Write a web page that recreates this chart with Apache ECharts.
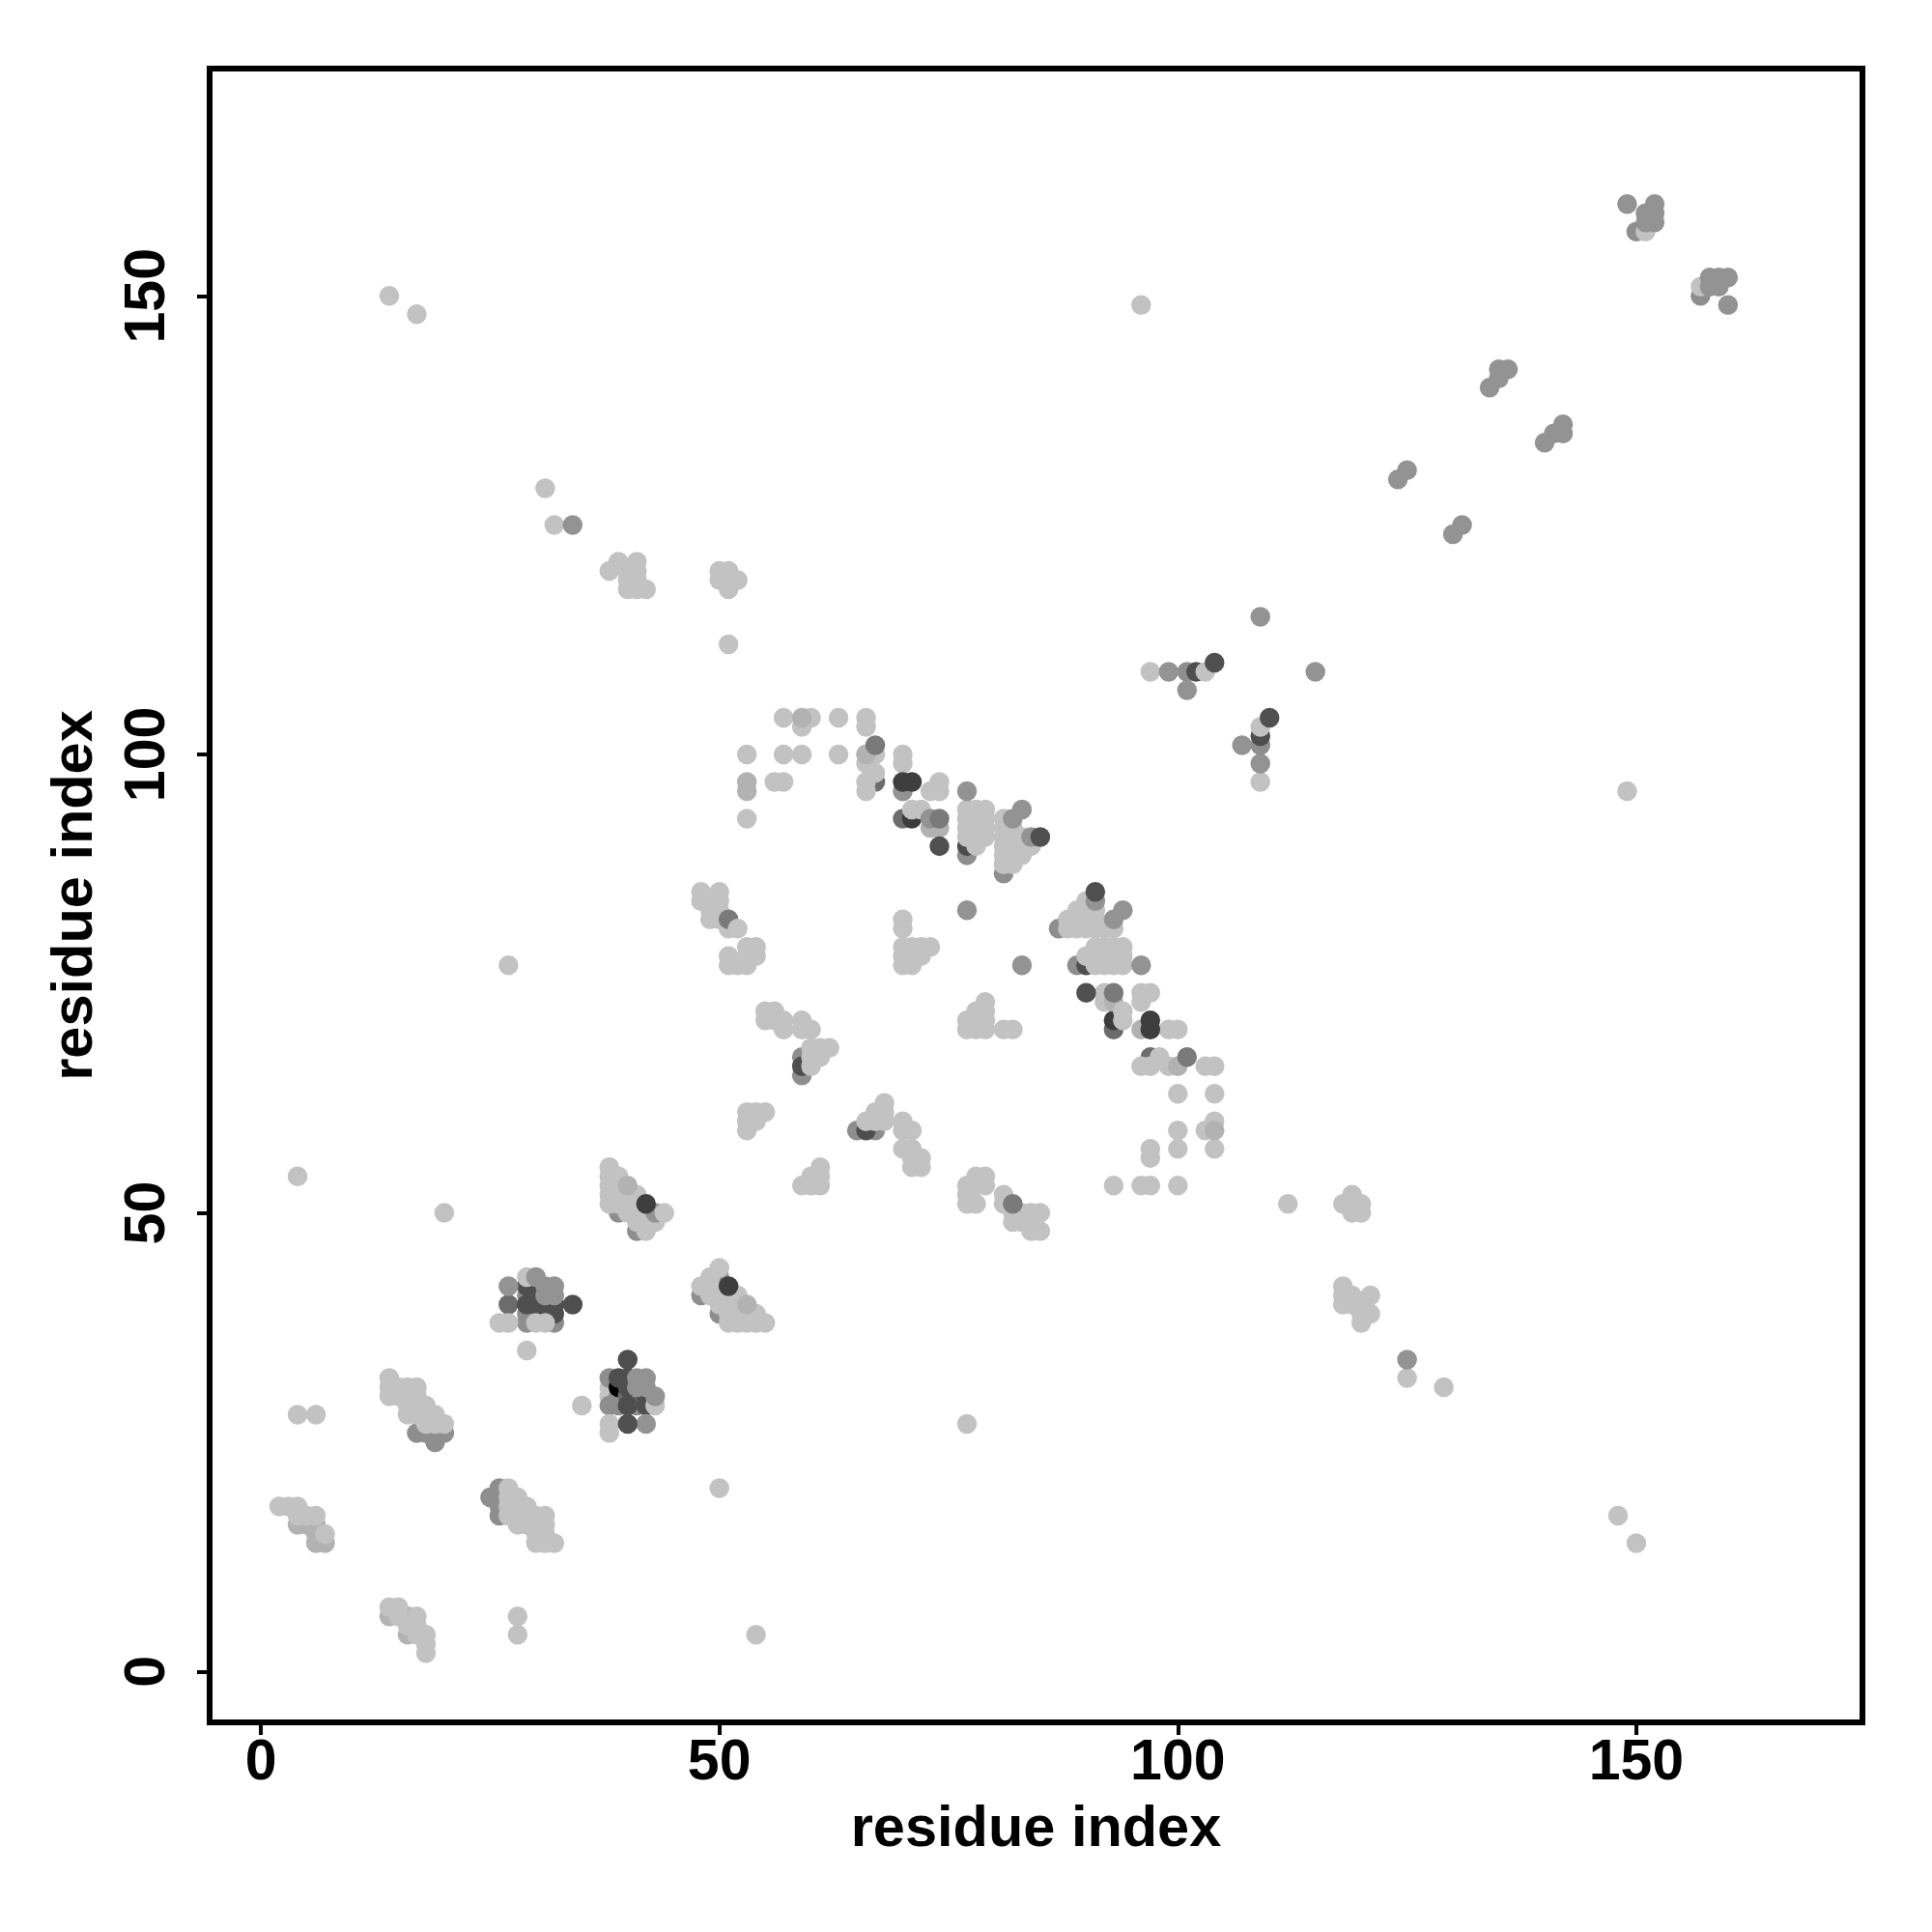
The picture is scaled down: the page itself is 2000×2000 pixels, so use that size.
<!DOCTYPE html>
<html><head><meta charset="utf-8">
<style>html,body{margin:0;padding:0;background:#fff}#c{width:2000px;height:2000px}</style>
<script src="https://cdn.jsdelivr.net/npm/echarts@6/dist/echarts.min.js"></script>
</head><body><div id="c"></div>
<script>
const tickValues=[0,50,100,150];
const axisTitle="residue index";
const lightLow=[[38,31],[38,30]];
const grayLow=[[26,20],[25,19],[26,19],[26,18],[26,17],[17,26],[18,26],[19,26],[19,25],[20,26],
[29,41],[30,41],[29,39],[30,39],[29,38],[32,38],[38,32],[38,29],[39,30],[39,29],[41,30],[41,29],
[50,43],[48,41],[50,39],[39,50],[41,48],[59,67],[59,65],[65,59],[67,59],[77,89],[81,87],[89,77],[87,81],
[150,157],[157,150],[101,109],[109,101]];
const blackSpot=[[31,39],[39,31]];
const slateLow=[[67,97],[70,93],[93,70],[97,67],[27,40],[40,30]];
const darkLow=[[29,42],[30,42],[29,40],[30,40],[31,40],[32,40],[32,39],[34,40],[39,32],[40,32],[40,31],[40,29],[42,30],[42,29],[40,34],
[59,66],[66,59],[77,90],[90,77],[102,109],[109,102]];
const deepLow=[[71,93],[93,71]];
const midLow=[[4,16],[5,16],[6,16],[6,15],[6,14],[7,14],[14,6],[16,6],[16,4],[73,92],[74,92],[53,97],[53,96]];
const light=[[29,35],[4,28],[6,28],[14,32],[14,31],[14,30],[15,31],[16,31],[17,31],[15,30],[16,30],[17,30],[16,29],[17,29],[18,29],[16,28],[17,28],[18,28],[19,28],[18,27],[19,27],[20,27],
[2,18],[3,18],[4,18],[4,17],[5,17],[6,17],[7,15],
[27,20],[28,19],[27,19],[27,18],[28,18],[29,18],[27,17],[28,17],[29,17],[30,17],[31,17],[28,16],[29,16],[30,16],[31,16],[30,15],[31,15],[30,14],[31,14],[32,14],
[14,7],[15,7],[15,6],[17,6],[17,5],[16,5],[17,4],[18,4],[18,3],[18,2],[28,6],[28,4],[35,29],
[26,38],[27,38],[29,43],[30,38],[31,38],[43,29],[38,27],[38,26],
[49,43],[48,42],[49,42],[49,41],[50,41],[51,41],[52,41],[50,40],[51,40],[52,40],[51,39],[52,39],[53,39],[54,39],[51,38],[52,38],[53,38],[54,38],[55,38],
[38,55],[39,54],[38,54],[38,53],[39,53],[38,52],[39,52],[40,52],[41,52],[38,51],[39,51],[40,51],[41,51],[40,50],[41,50],[42,50],[42,48],[41,49],[42,49],[43,49],
[61,55],[60,54],[61,54],[59,53],[60,53],[61,53],
[55,72],[56,72],[55,71],[56,71],[57,71],[57,70],[59,71],[59,70],[60,70],[60,68],[61,68],[62,68],[60,67],[61,67],[60,66],
[53,61],[54,61],[55,61],[53,60],[54,60],[53,59],[68,62],[67,61],[68,61],[66,60],[67,60],[68,60],[70,60],[70,59],[71,59],[70,57],[71,57],[72,56],[71,56],[71,55],[72,55],
[79,73],[78,72],[79,72],[77,71],[78,71],[79,71],[77,70],[78,70],[79,70],[81,70],[82,70],
[78,54],[79,54],[77,53],[78,53],[79,53],[77,52],[77,51],[78,51],[81,52],[81,51],[82,50],[82,49],[83,50],[83,49],[84,50],[85,50],[84,49],[84,48],[85,48],
[48,85],[50,85],[48,84],[49,84],[50,84],[49,83],[50,83],[49,82],[50,82],[51,81],
[51,78],[51,77],[52,77],[53,77],[53,78],[54,78],[53,79],[54,79],
[70,82],[70,81],[70,79],[71,79],[72,79],[73,79],[70,78],[71,78],[72,78],[70,77],[71,77],
[57,104],[59,103],[60,104],[63,104],[66,104],[66,103],[53,100],[57,100],[59,100],[63,100],[66,100],[67,100],[66,99],[70,100],[70,99],[53,93],[56,97],[57,97],[66,97],[66,96],[67,98],[70,96],
[73,96],[74,97],[74,96],[71,94],[72,94],
[77,94],[78,94],[79,94],[77,93],[78,93],[79,93],[77,92],[78,92],[79,92],[77,91],[78,91],[79,91],[78,90],
[81,93],[81,92],[82,92],[81,91],[82,91],[83,91],[81,90],[82,90],[83,90],[84,90],[81,89],[82,89],[83,89],[81,88],[82,88],
[90,84],[89,83],[90,83],[91,83],[88,82],[89,82],[90,82],[91,82],[88,81],[89,81],[90,81],[91,81],[92,81],[93,81],
[91,79],[92,79],[93,79],[94,79],[90,78],[91,78],[92,78],[93,78],[94,78],[91,77],[92,77],[93,77],[94,77],
[92,74],[92,73],[96,74],[97,74],[96,73],[94,71],[99,70],[100,70],[98,67],[96,66],[97,66],[99,66],[103,66],[104,66],
[100,63],[104,63],[104,60],[103,59],[100,59],[97,57],[97,56],[100,57],[104,57],[93,53],[96,53],[97,53],[100,53],
[97,109],[103,109],[109,103],[109,97],[151,157],[157,151],
[14,150],[17,148],[96,149],[149,96],[31,129],[32,125],
[38,120],[39,121],[41,121],[40,120],[41,120],[40,119],[41,119],[40,118],[41,118],[42,118],
[50,120],[51,120],[50,119],[51,119],[52,119],[51,118],[51,112],[27,77],[4,54],[20,50],[112,51],
[119,52],[118,51],[119,51],[120,51],[119,50],[120,50],
[118,42],[118,41],[119,41],[121,41],[118,40],[119,40],[120,40],[121,39],[120,39],[120,38],
[125,32],[129,31],[77,27],[50,20],[54,4],[148,17],[150,14]];
const midTop=[[40,53],[53,40],[93,73],[100,66],[104,59],[96,70],[59,104],[66,100]];
const grayTop=[[27,42],[30,43],[31,42],[32,42],[31,41],[32,41],[41,32],[42,32],[41,31],[42,31],[43,30],[42,27],
[43,50],[77,96],[70,96],[83,94],[82,93],[84,91],[73,93],[91,84],[94,83],[93,82],[96,77],[83,77],[77,83],
[109,115],[115,109],[107,101],[99,109],[101,107],[109,99],[125,34],[34,125],
[149,160],[152,160],[151,159],[152,159],[151,158],[152,158],[160,152],[158,152],[159,152],[158,151],[159,151],[160,149],
[134,140],[135,141],[135,142],[136,142],[140,134],[141,135],[142,135],[142,136],[124,130],[125,131],[130,124],[131,125]];
const slateTop=[[67,101],[74,93],[51,82],[82,51],[93,74],[101,67]];
const lightTop=[[50,44],[44,50],[52,81],[94,72]];
const darkTop=[[40,27],[74,90],[85,91],[91,85],[90,74],[104,110],[110,104]];
const deepTop=[[51,42],[42,51],[70,97],[71,97],[97,71],[97,70]];

const layers=[[lightLow,'#c4c4c4'],[grayLow,'#8e8e8e'],[blackSpot,'#000000'],[slateLow,'#6c6c6c'],[darkLow,'#4e4e4e'],[deepLow,'#3c3c3c'],[midLow,'#b2b2b2'],[light,'#c2c2c2'],[midTop,'#b2b2b2'],[grayTop,'#939393'],[slateTop,'#7a7a7a'],[lightTop,'#c4c4c4'],[darkTop,'#505050'],[deepTop,'#3e3e3e']];
const font='"Liberation Sans", Arial, sans-serif';
function axis(extra){return Object.assign({type:'value',name:axisTitle,nameLocation:'middle',
 nameTextStyle:{fontFamily:font,fontWeight:'bold',fontSize:59.5,color:'#000'},
 splitLine:{show:false},axisLine:{show:false,onZero:false},
 axisTick:{show:true,length:13,lineStyle:{color:'#000',width:4},customValues:tickValues}},extra);}
const labelStyle={fontFamily:font,fontWeight:'bold',fontSize:59,color:'#000',customValues:tickValues,formatter:v=>String(v)};
const chart=echarts.init(document.getElementById('c'),null,{renderer:'canvas'});
chart.setOption({animation:false,backgroundColor:'#fff',
 grid:{left:217,right:72,top:71,bottom:217,show:true,borderColor:'#000',borderWidth:6,backgroundColor:'transparent',z:10},
 xAxis:axis({position:'bottom',min:-5.59,max:174.66,nameGap:82,axisLabel:Object.assign({margin:13},labelStyle)}),
 yAxis:axis({position:'left',min:-5.55,max:174.78,nameGap:108,axisLabel:Object.assign({margin:34,rotate:90},labelStyle)}),
 series:layers.map(([d,c],i)=>({type:'scatter',data:d,symbol:'circle',symbolSize:20.5,z:i+2,itemStyle:{color:c,opacity:1},silent:true}))
});
</script></body></html>
